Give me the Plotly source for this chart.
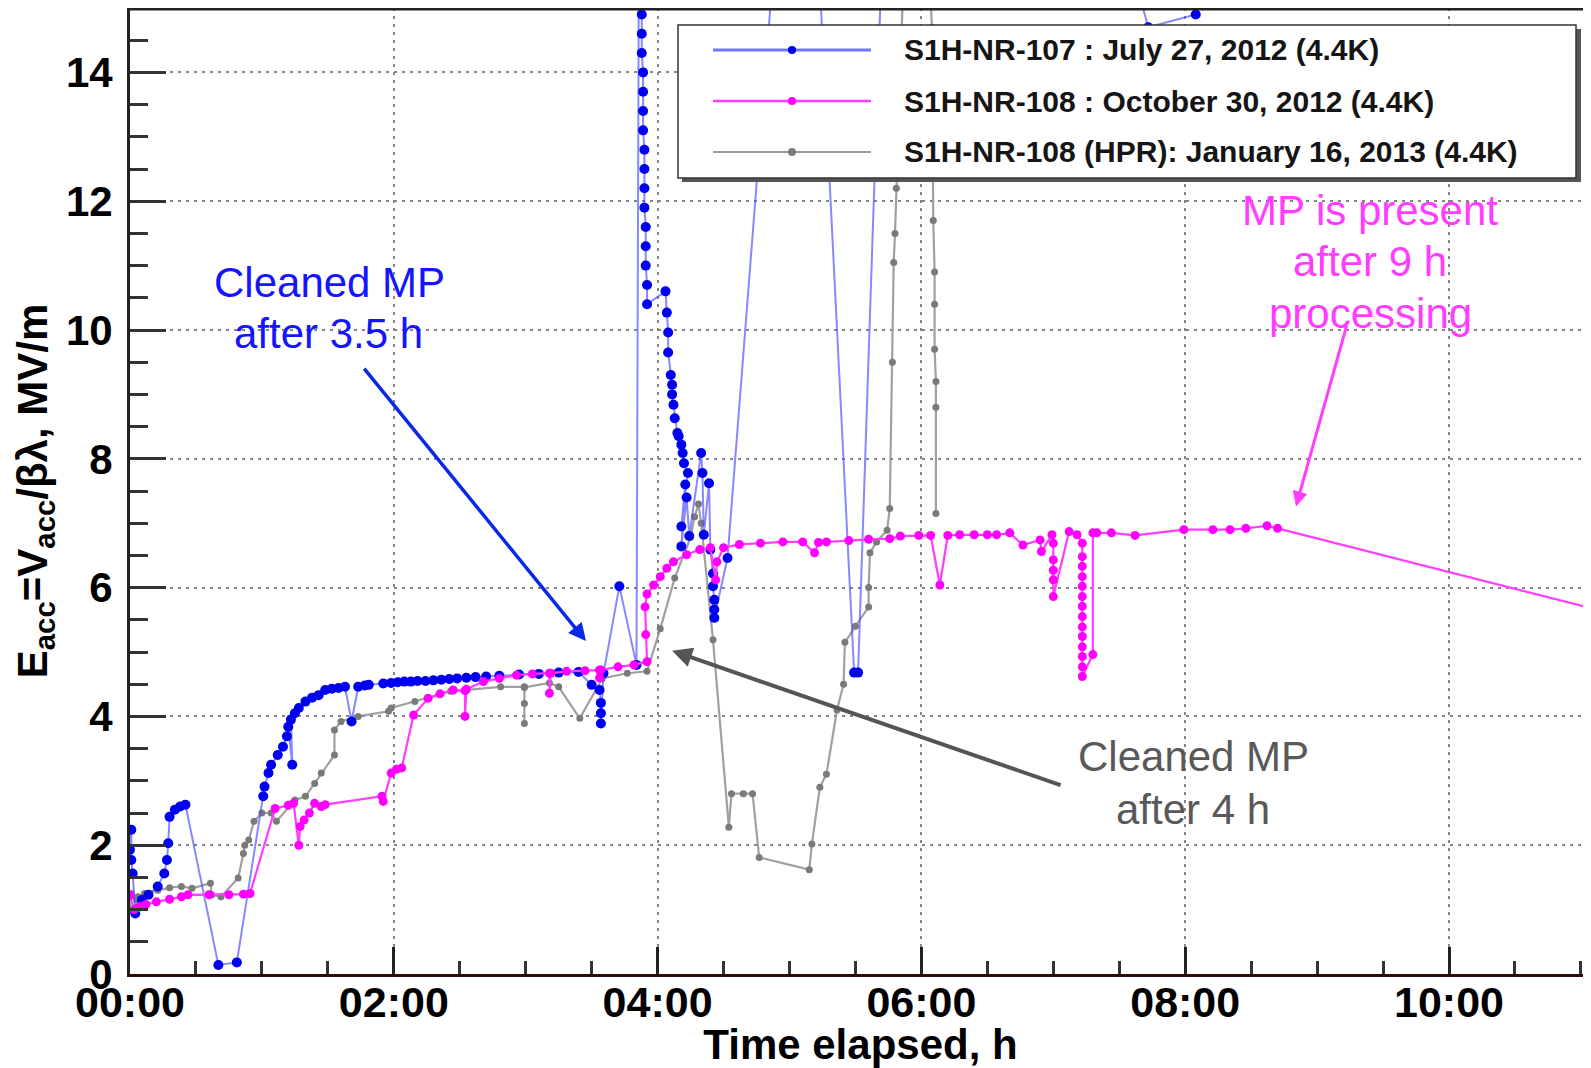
import plotly.graph_objects as go

# ---------------- data (hours elapsed, Eacc MV/m) ----------------
blue_t = [0.00, 0.01, 0.01, 0.02, 0.04, 0.09, 0.14, 0.21, 0.26, 0.28, 0.29, 0.30, 0.34, 0.38, 0.42,
          0.67, 0.81, 1.01, 1.02, 1.05, 1.07, 1.12, 1.16, 1.19, 1.20, 1.23, 1.22, 1.25, 1.28, 1.33,
          1.38, 1.43, 1.48, 1.53, 1.58, 1.63, 1.68, 1.73, 1.78, 1.81, 1.92, 1.98, 2.03, 2.08, 2.13,
          2.18, 2.24, 2.30, 2.36, 2.42, 2.48, 2.55, 2.62, 2.70, 2.80, 2.95, 3.10, 3.25, 3.40, 3.50,
          3.56, 3.57, 3.57, 3.57, 3.59, 3.71, 3.84, 3.86,
          3.88, 3.88, 3.88, 3.89, 3.89, 3.89, 3.89, 3.90, 3.90, 3.90, 3.90, 3.91, 3.91, 3.91, 3.92, 3.92,
          4.06, 4.07, 4.08, 4.08, 4.10, 4.11, 4.11, 4.12, 4.13, 4.15, 4.16, 4.18, 4.19, 4.20, 4.23,
          4.18, 4.21, 4.18, 4.22, 4.24, 4.33, 4.34, 4.35, 4.39, 4.40, 4.42, 4.42, 4.43, 4.43, 4.43,
          4.53, 4.93, 5.19, 5.49, 5.52, 5.72, 7.60, 7.72, 8.08, 8.14]
blue_e = [1.93, 2.24, 1.77, 1.56, 0.94, 1.15, 1.23, 1.36, 1.56, 1.77, 2.03, 2.44, 2.55, 2.60, 2.63,
          0.14, 0.18, 2.76, 2.91, 3.12, 3.25, 3.40, 3.53, 3.69, 3.84, 3.25, 3.95, 4.05, 4.13, 4.23,
          4.29, 4.33, 4.41, 4.43, 4.44, 4.46, 3.92, 4.46, 4.48, 4.49, 4.51, 4.52, 4.53, 4.54, 4.54,
          4.55, 4.55, 4.56, 4.57, 4.58, 4.59, 4.60, 4.61, 4.62, 4.63, 4.65, 4.66, 4.68, 4.69, 4.49,
          4.41, 4.21, 4.05, 3.89, 4.67, 6.02, 4.80, 17.0,
          14.9, 14.6, 14.3, 14.0, 13.7, 13.4, 13.1, 12.8, 12.5, 12.2, 11.9, 11.6, 11.3, 11.0, 10.7, 10.4,
          10.6, 10.27, 9.96, 9.65, 9.30, 9.15, 9.00, 8.84, 8.63, 8.40, 8.35, 8.22, 8.09, 7.93, 7.78,
          6.95, 7.60, 6.64, 7.40, 6.80, 8.09, 7.78, 6.82, 7.62, 6.59, 6.22, 6.02, 5.81, 5.66, 5.53,
          6.46, 17.0, 17.0, 4.68, 4.68, 17.0, 15.6, 14.7, 14.9, 16.0]

pink_t = [0.00, 0.03, 0.06, 0.08, 0.12, 0.20, 0.30, 0.39, 0.44, 0.60, 0.75, 0.86, 0.91, 1.10, 1.20,
          1.24, 1.28, 1.29, 1.32, 1.36, 1.40, 1.45, 1.48, 1.91, 1.92, 1.98, 2.02, 2.06, 2.15, 2.26,
          2.35, 2.45, 2.54, 2.54, 2.55, 2.68, 2.80, 2.93, 3.05, 3.18, 3.18, 3.19, 3.31, 3.45, 3.56,
          3.56, 3.57, 3.70, 3.82, 3.92, 3.91, 3.905, 3.92, 3.97, 4.02, 4.07, 4.12, 4.22, 4.32, 4.40,
          4.44, 4.45, 4.50, 4.62, 4.78, 4.95, 5.10, 5.19, 5.22, 5.28, 5.45, 5.60, 5.76, 5.84, 5.98,
          6.07, 6.14, 6.20, 6.29, 6.40, 6.50, 6.57, 6.67, 6.77, 6.90, 6.91, 6.99, 7.00, 7.00, 7.00,
          7.00, 7.00, 7.12, 7.18, 7.22, 7.22, 7.22, 7.22, 7.22, 7.22, 7.22, 7.22, 7.22, 7.22, 7.22,
          7.22, 7.22, 7.22, 7.30, 7.30, 7.33, 7.44, 7.62, 7.99, 8.21, 8.34, 8.46, 8.62, 8.70, 11.5]
pink_e = [1.22, 1.00, 1.03, 1.05, 1.08, 1.12, 1.16, 1.20, 1.23, 1.23, 1.23, 1.24, 1.25, 2.57, 2.62,
          2.65, 2.00, 2.29, 2.39, 2.50, 2.65, 2.60, 2.63, 2.76, 2.68, 3.12, 3.18, 3.20, 4.02, 4.28,
          4.35, 4.41, 4.40, 4.00, 4.42, 4.54, 4.59, 4.64, 4.66, 4.67, 4.36, 4.67, 4.70, 4.71, 4.72,
          4.60, 4.72, 4.77, 4.80, 4.85, 5.27, 5.70, 5.90, 6.04, 6.17, 6.30, 6.40, 6.51, 6.59, 6.62,
          6.12, 6.40, 6.62, 6.67, 6.69, 6.71, 6.71, 6.54, 6.70, 6.71, 6.73, 6.75, 6.76, 6.80, 6.81,
          6.81, 6.04, 6.81, 6.82, 6.82, 6.82, 6.82, 6.85, 6.66, 6.74, 6.56, 6.82, 6.69, 6.43, 6.27,
          6.12, 5.86, 6.87, 6.82, 6.69, 6.48, 6.33, 6.17, 6.02, 5.86, 5.71, 5.55, 5.39, 5.24, 5.08,
          4.93, 4.77, 4.62, 4.96, 6.85, 6.85, 6.85, 6.81, 6.90, 6.90, 6.90, 6.92, 6.96, 6.92, 5.46]

gray_t = [0.00, 0.01, 0.05, 0.06, 0.11, 0.21, 0.30, 0.39, 0.47, 0.61, 0.62, 0.69, 0.82, 0.86, 0.87,
          0.90, 0.94, 1.00, 1.07, 1.11, 1.25, 1.33, 1.40, 1.45, 1.55, 1.55, 1.60, 1.73, 1.96, 1.98,
          2.16, 2.43, 2.81, 2.99, 2.99, 2.99, 2.99, 3.18, 3.25, 3.41, 3.58, 3.77, 3.92, 4.02, 4.13,
          4.25, 4.28, 4.31, 4.33, 4.42, 4.54, 4.56, 4.65, 4.72, 4.77, 5.15, 5.17, 5.23, 5.28, 5.36,
          5.41, 5.42, 5.50, 5.60, 5.60, 5.61, 5.66, 5.74, 5.76, 5.78, 5.79, 5.80, 5.81, 5.83, 5.88,
          6.04, 6.08, 6.09, 6.10, 6.10, 6.10, 6.11, 6.11, 6.11]
gray_e = [0.99, 1.25, 1.15, 1.20, 1.25, 1.30, 1.34, 1.36, 1.33, 1.41, 1.23, 1.20, 1.49, 1.87, 2.00,
          2.08, 2.37, 2.50, 2.50, 2.37, 2.70, 2.76, 2.96, 3.12, 3.40, 3.79, 3.92, 4.00, 4.08, 4.13,
          4.23, 4.39, 4.46, 4.46, 4.20, 3.89, 4.45, 4.52, 4.46, 3.97, 4.59, 4.67, 4.70, 5.36, 6.15,
          6.78, 7.10, 7.30, 7.00, 5.19, 2.28, 2.80, 2.80, 2.80, 1.81, 1.62, 2.02, 2.90, 3.10, 4.10,
          4.50, 5.15, 5.40, 5.70, 6.00, 6.54, 6.71, 6.89, 7.23, 9.50, 11.05, 11.50, 12.20, 13.50, 16.5,
          16.5, 14.70, 11.70, 10.90, 10.40, 9.70, 9.20, 8.80, 7.15]

series_names = ["S1H-NR-107 : July 27, 2012 (4.4K)",
                "S1H-NR-108 : October 30, 2012 (4.4K)",
                "S1H-NR-108 (HPR): January 16, 2013 (4.4K)"]

x_tickvals = [0, 2, 4, 6, 8, 10]
x_ticktext = ["00:00", "02:00", "04:00", "06:00", "08:00", "10:00"]
y_tickvals = [0, 2, 4, 6, 8, 10, 12, 14]

# ---------------- layout geometry ----------------
# page (browser) coordinates of the plot area; the page body adds an 8px offset
OFF = 8
PL, PT, PR, PB = 130, 8, 1591, 974
PW, PH = PR - PL, PB - PT
W, H = 1591 - OFF, 1068 - OFF
FONT = "Arial, Liberation Sans, Helvetica, sans-serif"


def px(xp):
    return (xp - PL) / PW


def py(yp):
    return (PB - yp) / PH


fig = go.Figure()

fig.add_trace(go.Scatter(x=gray_t, y=gray_e, mode="lines+markers", name=series_names[2],
                         line=dict(color="rgba(150,150,150,0.9)", width=2.2),
                         marker=dict(color="#7a7a7a", size=7), showlegend=False))
fig.add_trace(go.Scatter(x=blue_t, y=blue_e, mode="lines+markers", name=series_names[0],
                         line=dict(color="rgba(70,70,255,0.65)", width=2),
                         marker=dict(color="#0000f0", size=10), showlegend=False))
fig.add_trace(go.Scatter(x=pink_t, y=pink_e, mode="lines+markers", name=series_names[1],
                         line=dict(color="#ff3cff", width=2.2),
                         marker=dict(color="#ff00ff", size=9), showlegend=False))

shapes = []
annotations = []

# top frame line
shapes.append(dict(type="line", xref="paper", yref="paper", x0=0, x1=1, y0=py(9), y1=py(9),
                   line=dict(color="#222", width=3)))

# manual legend box (with shadow at bottom/right)
shapes.append(dict(type="rect", xref="paper", yref="paper", x0=px(682), x1=px(1581),
                   y0=py(182), y1=py(29), line=dict(width=0), fillcolor="#555"))
shapes.append(dict(type="rect", xref="paper", yref="paper", x0=px(678), x1=px(1576),
                   y0=py(178), y1=py(25), line=dict(color="#333", width=1.5), fillcolor="white"))
leg_rows = [50, 101, 152]
leg_line = ["rgba(70,70,255,0.75)", "#ff3cff", "#9a9a9a"]
leg_mark = ["#0000f0", "#ff00ff", "#7a7a7a"]
leg_lw = [3, 2.5, 2]
for i, yrow in enumerate(leg_rows):
    shapes.append(dict(type="line", xref="paper", yref="paper", x0=px(713), x1=px(871),
                       y0=py(yrow), y1=py(yrow), line=dict(color=leg_line[i], width=leg_lw[i])))
    r = 4
    shapes.append(dict(type="circle", xref="paper", yref="paper", x0=px(792 - r), x1=px(792 + r),
                       y0=py(yrow + r), y1=py(yrow - r), line=dict(width=0), fillcolor=leg_mark[i]))
    annotations.append(dict(xref="paper", yref="paper", x=px(902), y=py(yrow), xanchor="left",
                            yanchor="middle", showarrow=False, text=series_names[i],
                            font=dict(family=FONT, size=30, color="#151515", weight="bold")))

# text annotations (one per line)
text_lines = [
    ("Cleaned MP", 329, 282, "#1414ff"),
    ("after 3.5 h", 328, 333, "#1414ff"),
    ("Cleaned MP", 1193, 756, "#595959"),
    ("after 4 h", 1193, 809, "#595959"),
    ("MP is present", 1370, 210, "#ff3cff"),
    ("after 9 h", 1370, 262, "#ff3cff"),
    ("processing", 1370, 313, "#ff3cff"),
]
for txt, xx, yy, col in text_lines:
    annotations.append(dict(xref="paper", yref="paper", x=px(xx), y=py(yy), xanchor="center",
                            yanchor="middle", showarrow=False, text=txt,
                            font=dict(family=FONT, size=42, color=col)))

# arrows (head in data coords, tail offset in px)
annotations.append(dict(x=3.457, y=5.17, ax=-223, ay=-274, showarrow=True, text="",
                        arrowhead=2, arrowsize=1, arrowwidth=3.5, arrowcolor="#0a28e6"))
annotations.append(dict(x=4.11, y=5.02, ax=390, ay=135, showarrow=True, text="",
                        arrowhead=2, arrowsize=1, arrowwidth=4, arrowcolor="#555555"))
annotations.append(dict(x=8.84, y=7.26, ax=51, ay=-182, showarrow=True, text="",
                        arrowhead=2, arrowsize=1, arrowwidth=3, arrowcolor="#ff3cff"))

fig.update_layout(
    width=W, height=H,
    margin=dict(l=PL - OFF, r=W - (PR - OFF), t=PT - OFF, b=H - (PB - OFF), pad=0),
    paper_bgcolor="white", plot_bgcolor="white",
    showlegend=False,
    shapes=shapes, annotations=annotations,
    font=dict(family=FONT, color="black"),
)

fig.update_xaxes(
    range=[0, PW / 131.9], tickmode="array", tickvals=x_tickvals, ticktext=x_ticktext,
    showline=True, linecolor="#2a0c0c", linewidth=3,
    ticks="inside", ticklen=27, tickwidth=3, tickcolor="#222",
    minor=dict(ticks="inside", ticklen=13, tickwidth=2.5, tickcolor="#333", dtick=0.5, showgrid=False),
    showgrid=True, gridcolor="#858585", gridwidth=2, griddash="3px,5px", zeroline=False,
    tickfont=dict(family=FONT, size=43, weight="bold", color="black"),
    ticklabelstandoff=-12,
    title=dict(text="Time elapsed, h", standoff=0,
               font=dict(family=FONT, size=42, weight="bold", color="black")),
    automargin=False,
)
fig.update_yaxes(
    range=[0, 15], tickmode="array", tickvals=y_tickvals,
    showline=True, linecolor="#222", linewidth=3,
    ticks="inside", ticklen=36, tickwidth=3, tickcolor="#333",
    minor=dict(ticks="inside", ticklen=18, tickwidth=2.5, tickcolor="#333", dtick=0.5, showgrid=False),
    showgrid=True, gridcolor="#858585", gridwidth=2, griddash="3px,5px", zeroline=False,
    tickfont=dict(family=FONT, size=42, weight="bold", color="black"),
    ticklabelstandoff=6,
    title=dict(text="E<sub>acc</sub>=V<sub>acc</sub>/βλ, MV/m", standoff=6,
               font=dict(family=FONT, size=42, weight="bold", color="black")),
    automargin=False,
)

fig.write_html("out.html")
